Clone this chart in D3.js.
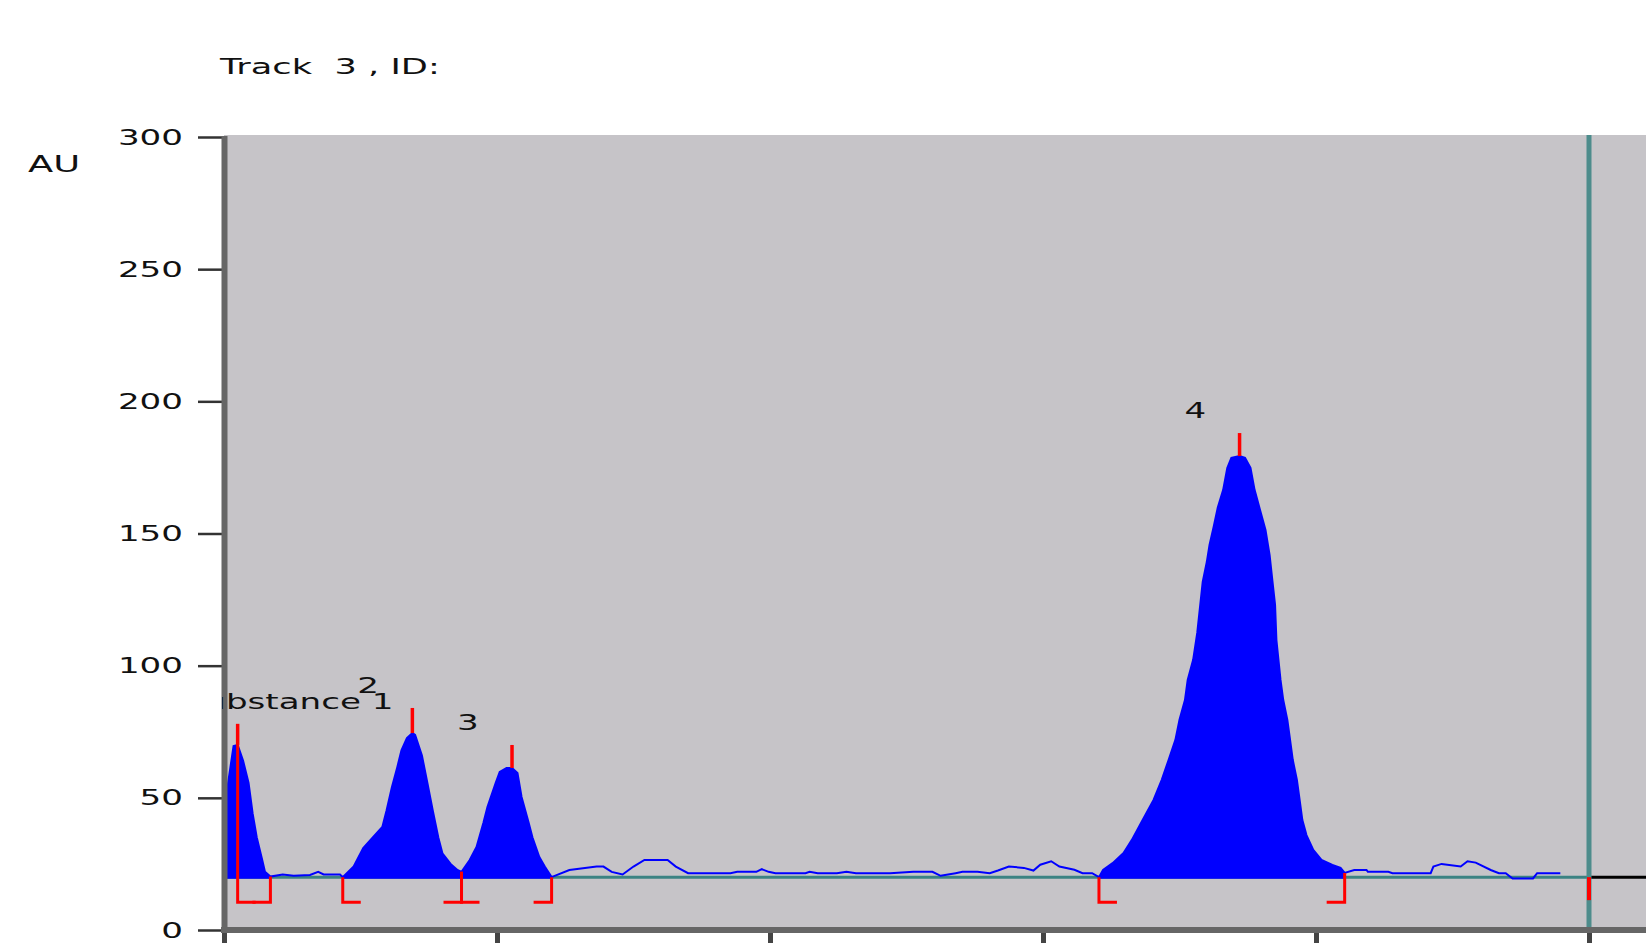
<!DOCTYPE html>
<html>
<head>
<meta charset="utf-8">
<script src="https://cdn.jsdelivr.net/npm/d3@7"></script>
<style>
  body { margin: 0; background: #fff; }
  svg { display: block; }
  text { font-family: "DejaVu Sans", sans-serif; fill: #111; }
</style>
</head>
<body>
<svg width="1646" height="943"></svg>
<script>
// densitogram, track 3 (Rf vs AU)
const rfValues = [
  0.000, 0.003, 0.007, 0.010, 0.014, 0.018, 0.021, 0.024, 0.028, 0.030, 0.034,
  0.043, 0.051, 0.063, 0.069, 0.073, 0.085, 0.087,
  0.095, 0.102, 0.109, 0.116, 0.119, 0.123, 0.127, 0.130, 0.134, 0.138, 0.140,
  0.145, 0.149, 0.153, 0.157, 0.160, 0.166, 0.171, 0.174,
  0.180, 0.185, 0.190, 0.193, 0.199, 0.202, 0.207, 0.211, 0.215, 0.218, 0.223,
  0.226, 0.231, 0.235, 0.240,
  0.253, 0.273, 0.278, 0.284, 0.292, 0.300, 0.308, 0.325, 0.331, 0.340, 0.371,
  0.376, 0.390, 0.394, 0.399, 0.404, 0.426, 0.429, 0.435, 0.449, 0.456, 0.463,
  0.488, 0.505, 0.519, 0.525, 0.536, 0.541, 0.552, 0.561, 0.567, 0.575, 0.586,
  0.593, 0.598, 0.606, 0.612, 0.623, 0.629, 0.636, 0.641,
  0.644, 0.651, 0.659, 0.665, 0.673, 0.681, 0.687, 0.692, 0.697, 0.700, 0.704,
  0.706, 0.710, 0.713, 0.717, 0.720, 0.722, 0.725, 0.728, 0.732, 0.735, 0.738,
  0.744, 0.748, 0.752, 0.755, 0.759, 0.763, 0.766, 0.768, 0.770, 0.771, 0.774,
  0.776, 0.779, 0.781, 0.783, 0.786, 0.788, 0.790, 0.793, 0.798, 0.804, 0.812,
  0.818, 0.821,
  0.828, 0.837, 0.838, 0.853, 0.856, 0.884, 0.886, 0.892, 0.906, 0.911, 0.917,
  0.928, 0.934, 0.939, 0.944, 0.959, 0.962, 0.979
];
const auValues = [
  30, 55.6, 69.6, 70, 64, 55.6, 44, 35, 26.5, 22, 20.2,
  21, 20.5, 20.8, 22, 21, 21, 20,
  24, 31, 35, 39, 45, 54, 61.7, 68, 72.6, 74.5, 73.8,
  66, 55.6, 45, 35, 29, 25, 22.7, 22,
  26.5, 31.4, 40.5, 46.5, 55.6, 59.8, 61.3, 61.3, 59.4, 50.3, 40.9,
  35, 27.6, 24, 20,
  22.7, 24, 24, 22, 21, 24, 26.5, 26.5, 24, 21.5, 21.5,
  22, 22, 23, 22, 21.5, 21.5, 22, 21.5, 21.5, 22, 21.5,
  21.5, 22, 22, 20.5, 21.5, 22, 22, 21.5, 22.5, 24, 23.5,
  22.5, 24.7, 26, 24, 22.8, 21.5, 21.5, 20,
  22.7, 25.3, 29.1, 34, 41.6, 49.2, 56.8, 64.3, 71.9, 79.5, 87,
  94.6, 102.2, 112.4, 131.7, 139.2, 145.7, 152.5, 159.7, 166.5, 174.8, 178.6,
  179.3, 178.6, 174.8, 166.5, 158.9, 151.3, 141.9, 132.4, 123, 109.7, 94.6,
  87, 79.5, 71.9, 64.3, 56.8, 49.2, 41.6, 35.9, 30.3, 26.5, 24.6,
  23.5, 21.6,
  22.7, 22.7, 22, 22, 21.5, 21.5, 24, 25, 24, 26, 25.5,
  22.7, 21.5, 21.5, 19.5, 19.5, 21.5, 21.5
];

const peakNames = ["Substance 1", "2", "3", "4"];
const fillFrom = [0.000, 0.087, 0.174, 0.641];
const peakStart = [0.010, 0.087, 0.174, 0.641];
const peakApex = [0.010, 0.138, 0.211, 0.744];
const peakEnd = [0.034, 0.174, 0.240, 0.821];
const peakMarkTop = [78, 84, 70, 188];
const baselineAU = 20;
const frontRf = 1.0;

const yTicks = [0, 50, 100, 150, 200, 250, 300];
const xTicks = [0, 0.2, 0.4, 0.6, 0.8, 1.0];

const svg = d3.select("svg");
const W = 1646, H = 943;
const plotLeft = 224, plotTop = 135, plotBottom = 927;
const stretch = 1.55;

const x = d3.scaleLinear().domain([0, 1]).range([224, 1589]);
const y = d3.scaleLinear().domain([0, 300]).range([930, 137]);

svg.append("rect").attr("width", W).attr("height", H).attr("fill", "#fff");

svg.append("rect")
  .attr("x", plotLeft).attr("y", plotTop)
  .attr("width", W - plotLeft).attr("height", plotBottom - plotTop)
  .attr("fill", "#c6c4c8");

const defs = svg.append("defs");
defs.append("clipPath").attr("id", "plot").append("rect")
  .attr("x", plotLeft).attr("y", plotTop)
  .attr("width", W - plotLeft).attr("height", plotBottom - plotTop);
defs.append("clipPath").attr("id", "labels").append("rect")
  .attr("x", 222).attr("y", 0).attr("width", W).attr("height", plotBottom);

const g = svg.append("g").attr("clip-path", "url(#plot)");

const pts = rfValues.map((r, i) => ({ rf: r, au: auValues[i] }));
const auAt = rf => pts[d3.bisector(d => d.rf).center(pts, rf)].au;
const yBase = y(baselineAU);

// baseline
g.append("line")
  .attr("x1", x(0)).attr("x2", x(frontRf))
  .attr("y1", yBase).attr("y2", yBase)
  .attr("stroke", "#3b8383").attr("stroke-width", 3);
g.append("line")
  .attr("x1", x(frontRf)).attr("x2", W)
  .attr("y1", yBase).attr("y2", yBase)
  .attr("stroke", "#000").attr("stroke-width", 3);

// peak areas
const area = d3.area()
  .x(d => x(d.rf))
  .y0(yBase + 1.5)
  .y1(d => y(d.au));
peakNames.forEach((n, i) => {
  const seg = pts.filter(d => d.rf >= fillFrom[i] - 1e-6 && d.rf <= peakEnd[i] + 1e-6);
  g.append("path").datum(seg).attr("d", area).attr("fill", "#0000ff");
});

// signal
const line = d3.line().x(d => x(d.rf)).y(d => y(d.au));
g.append("path").datum(pts)
  .attr("d", line)
  .attr("fill", "none")
  .attr("stroke", "#0000ff")
  .attr("stroke-width", 2);

// front line
g.append("line")
  .attr("x1", x(frontRf)).attr("x2", x(frontRf))
  .attr("y1", plotTop).attr("y2", plotBottom)
  .attr("stroke", "#4d8c8c").attr("stroke-width", 5);

// integration marks
const red = "#ff0000";
const yHook = yBase + 25;
const hook = 18;
peakNames.forEach((n, i) => {
  const xa = x(peakApex[i]), xs = x(peakStart[i]), xe = x(peakEnd[i]);
  g.append("line")
    .attr("x1", xa).attr("x2", xa)
    .attr("y1", y(peakMarkTop[i])).attr("y2", y(auAt(peakApex[i])))
    .attr("stroke", red).attr("stroke-width", 3.5);
  g.append("path")
    .attr("d", `M${xs},${y(auAt(peakStart[i]))}V${yHook}H${xs + hook}`)
    .attr("fill", "none").attr("stroke", red).attr("stroke-width", 3);
  g.append("path")
    .attr("d", `M${xe},${y(auAt(peakEnd[i]))}V${yHook}H${xe - hook}`)
    .attr("fill", "none").attr("stroke", red).attr("stroke-width", 3);
});
g.append("line")
  .attr("x1", x(frontRf)).attr("x2", x(frontRf))
  .attr("y1", yBase).attr("y2", yBase + 23)
  .attr("stroke", red).attr("stroke-width", 4);

// axes
const yAxis = svg.append("g")
  .attr("transform", "translate(222,0)")
  .call(d3.axisLeft(y).tickValues(yTicks).tickSize(24).tickSizeOuter(0).tickPadding(0));
yAxis.select(".domain").remove();
yAxis.selectAll(".tick line").attr("stroke", "#333").attr("stroke-width", 2.5);
yAxis.selectAll(".tick text")
  .attr("x", null).attr("dy", null)
  .attr("font-size", 22)
  .attr("transform", `translate(-39,7) scale(${stretch},1)`);

svg.append("line")
  .attr("x1", 221).attr("x2", W).attr("y1", 930).attr("y2", 930)
  .attr("stroke", "#666").attr("stroke-width", 6);
svg.append("line")
  .attr("x1", 224.5).attr("x2", 224.5).attr("y1", 136).attr("y2", 933)
  .attr("stroke", "#666").attr("stroke-width", 6);

// x tick labels fall below the visible frame, only the tick marks show
const xAxis = svg.append("g")
  .attr("transform", "translate(0,933)")
  .call(d3.axisBottom(x).tickValues(xTicks).tickSize(10).tickSizeOuter(0)
    .tickFormat(""));
xAxis.select(".domain").remove();
xAxis.selectAll(".tick line").attr("stroke", "#444").attr("stroke-width", 5);

// texts
svg.append("text")
  .attr("transform", `translate(220,74) scale(1.6,1)`)
  .attr("font-size", 22)
  .style("white-space", "pre")
  .text("Track  3 , ID:");

svg.append("text")
  .attr("transform", `translate(28,172) scale(1.6,1)`)
  .attr("font-size", 23)
  .text("AU");

const lab = svg.append("g").attr("clip-path", "url(#labels)");
peakNames.forEach((n, i) => {
  lab.append("text")
    .attr("transform", `translate(${x(peakApex[i]) - 55},${y(peakMarkTop[i]) - 15}) scale(${stretch},1)`)
    .attr("font-size", 22)
    .text(n);
});
</script>
</body>
</html>
